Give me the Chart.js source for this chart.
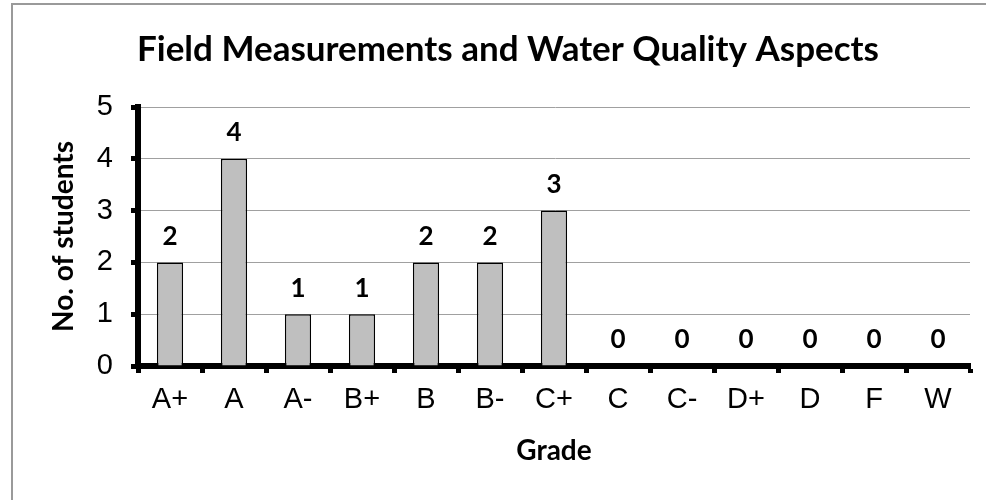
<!DOCTYPE html>
<html>
<head>
<meta charset="utf-8">
<script src="https://cdn.jsdelivr.net/npm/chart.js@4/dist/chart.umd.min.js"></script>
<style>
  html, body { margin: 0; padding: 0; background: #fff; }
  #wrap { width: 986px; height: 500px; }
</style>
</head>
<body>
<div id="wrap"><canvas id="myChart" width="986" height="500"></canvas></div>
<script>
// --- DATA ---
const grades = ["A+", "A", "A-", "B+", "B", "B-", "C+", "C", "C-", "D+", "D", "F", "W"];
const students = [2, 4, 1, 1, 2, 2, 3, 0, 0, 0, 0, 0, 0];
const yTicks = [0, 1, 2, 3, 4, 5];
// ------------

// --- outer frame (only top and left edges are visible) ---
const frame = {
  id: "frame",
  beforeDraw(chart) {
    const { ctx } = chart;
    ctx.save();
    ctx.strokeStyle = "#9a9a9a";
    ctx.lineWidth = 2;
    ctx.beginPath();
    ctx.moveTo(12, 600);
    ctx.lineTo(12, 4);
    ctx.lineTo(1100, 4);
    ctx.stroke();
    ctx.restore();
  },
};

// --- value labels above bars ---
const barLabels = {
  id: "barLabels",
  afterDatasetsDraw(chart) {
    const { ctx } = chart;
    const meta = chart.getDatasetMeta(0);
    ctx.save();
    ctx.fillStyle = "#000";
    ctx.font = "bold 26px Lato";
    ctx.textAlign = "center";
    ctx.textBaseline = "middle";
    meta.data.forEach((bar, i) => {
      ctx.fillText(String(students[i]), bar.x, bar.y - 26);
    });
    ctx.restore();
  },
};

const config = {
  type: "bar",
  data: {
    labels: grades,
    datasets: [
      {
        data: students,
        backgroundColor: "#bfbfbf",
        borderColor: "#000",
        borderWidth: 1.5,
        barPercentage: 1,
        categoryPercentage: 0.41,
      },
    ],
  },
  options: {
    responsive: false,
    animation: false,
    layout: { padding: { left: 46, right: 16, top: 0, bottom: 22 } },
    plugins: {
      legend: { display: false },
      tooltip: { enabled: false },
      title: {
        display: true,
        text: "Field Measurements and Water Quality Aspects",
        color: "#000",
        font: { family: "Lato", size: 35, weight: "bold" },
        padding: { top: 29, bottom: 36 },
      },
    },
    scales: {
      x: {
        afterFit(axis) {
          axis.height = 500 - 366 - 22;
        },
        grid: {
          offset: true,
          drawOnChartArea: false,
          tickLength: 7,
          tickWidth: 5,
          tickColor: "#000",
        },
        border: { display: true, color: "#000", width: 6 },
        ticks: {
          color: "#000",
          font: { family: "Liberation Sans", size: 29 },
          padding: 10,
        },
        title: {
          display: true,
          text: "Grade",
          color: "#000",
          font: { family: "Lato", size: 28, weight: "bold" },
          padding: { top: 4, bottom: 10 },
        },
      },
      y: {
        min: 0,
        max: 5,
        afterBuildTicks(axis) {
          axis.ticks = yTicks.map((v) => ({ value: v }));
        },
        afterFit(axis) {
          axis.width = 138 - 46;
        },
        grid: {
          color: "#a0a0a0",
          lineWidth: 1,
          tickLength: 7,
          tickWidth: 5,
          tickColor: "#000",
        },
        border: { display: true, color: "#000", width: 6 },
        ticks: {
          color: "#000",
          font: { family: "Liberation Sans", size: 29 },
          padding: 18,
        },
        title: {
          display: true,
          text: "No. of students",
          color: "#000",
          font: { family: "Lato", size: 28, weight: "bold" },
          padding: { top: 1, bottom: 0 },
        },
      },
    },
  },
  plugins: [frame, barLabels],
};

const ctx = document.getElementById("myChart");
const myBarChart = new Chart(ctx, config);
</script>
</body>
</html>
